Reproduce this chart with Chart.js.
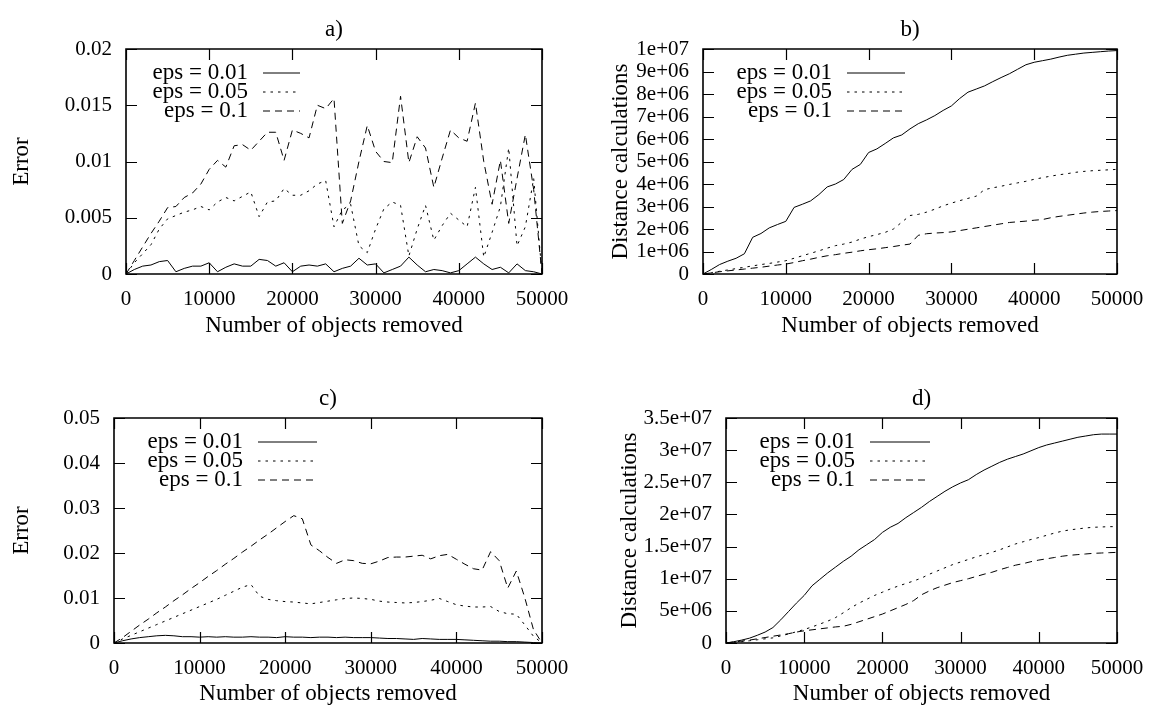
<!DOCTYPE html>
<html>
<head>
<meta charset="utf-8">
<script src="https://cdn.jsdelivr.net/npm/chart.js@4.4.1/dist/chart.umd.min.js"></script>
<style>
  body { margin: 0; background: #fff; width: 1153px; height: 708px; overflow: hidden; position: relative; }
  canvas { position: absolute; }
</style>
</head>
<body>
<canvas id="graphA" width="576" height="354" style="left:0;top:0"></canvas>
<canvas id="graphB" width="577" height="354" style="left:576px;top:0"></canvas>
<canvas id="graphC" width="576" height="354" style="left:0;top:354px"></canvas>
<canvas id="graphD" width="577" height="354" style="left:576px;top:354px"></canvas>
<script>
// x values: number of objects removed
var removed = [0,1000,2000,3000,4000,5000,6000,7000,8000,9000,10000,11000,12000,13000,14000,15000,16000,17000,18000,19000,20000,
  21000,22000,23000,24000,25000,26000,27000,28000,29000,30000,31000,32000,33000,34000,35000,36000,37000,38000,39000,40000,
  41000,42000,43000,44000,45000,46000,47000,48000,49000,50000];

var legendLabels = ['eps = 0.01', 'eps = 0.05', 'eps = 0.1'];
var xTickLabels = ['0', '10000', '20000', '30000', '40000', '50000'];

var yTicksA = ['0', '0.005', '0.01', '0.015', '0.02'];
var yTicksB = ['0', '1e+06', '2e+06', '3e+06', '4e+06', '5e+06', '6e+06', '7e+06', '8e+06', '9e+06', '1e+07'];
var yTicksC = ['0', '0.01', '0.02', '0.03', '0.04', '0.05'];
var yTicksD = ['0', '5e+06', '1e+07', '1.5e+07', '2e+07', '2.5e+07', '3e+07', '3.5e+07'];

// a) error
var errA01 = [0,0.0004,0.0007,0.0008,0.0011,0.0012,0.0002,0.0005,0.0007,0.0007,0.0010,0.0002,0.0006,0.0009,0.0007,0.0007,0.0013,0.0012,0.0007,0.0010,0.0002,
  0.0007,0.0008,0.0007,0.0009,0.0002,0.0005,0.0007,0.0014,0.0008,0.0009,0.0001,0.0004,0.0007,0.0015,0.0008,0.0002,0.0004,0.0003,0.0001,0.0003,
  0.0009,0.0015,0.0009,0.0004,0.0006,0.0001,0.0009,0.0003,0.0002,0];
var errA05 = [0,0.0010,0.0018,0.0026,0.0040,0.0049,0.0052,0.0055,0.0057,0.0060,0.0057,0.0064,0.0068,0.0065,0.0069,0.0073,0.0051,0.0064,0.0065,0.0076,0.0070,
  0.0070,0.0074,0.0080,0.0083,0.0042,0.0057,0.0062,0.0025,0.0019,0.0040,0.0058,0.0064,0.0061,0.0016,0.0040,0.0061,0.0030,0.0043,0.0054,0.0048,
  0.0042,0.0077,0.0015,0.0037,0.0060,0.0112,0.0025,0.0042,0.0085,0];
var errA1 = [0,0.0012,0.0024,0.0036,0.0047,0.0059,0.0060,0.0068,0.0072,0.0080,0.0093,0.0101,0.0095,0.0114,0.0115,0.0110,0.0118,0.0126,0.0126,0.0101,0.0128,
  0.0125,0.0121,0.0150,0.0147,0.0156,0.0045,0.0065,0.0100,0.0132,0.0109,0.0100,0.0099,0.0158,0.0099,0.0122,0.0112,0.0077,0.0103,0.0128,0.0121,
  0.0118,0.0152,0.0100,0.0062,0.0101,0.0045,0.0085,0.0124,0.0075,0];

// b) distance calculations
var distB01 = [0,0.2e6,0.42e6,0.57e6,0.7e6,0.9e6,1.63e6,1.8e6,2.05e6,2.2e6,2.34e6,2.96e6,3.1e6,3.25e6,3.53e6,3.87e6,4.0e6,4.2e6,4.65e6,4.87e6,5.4e6,
  5.56e6,5.8e6,6.05e6,6.18e6,6.45e6,6.68e6,6.85e6,7.04e6,7.27e6,7.47e6,7.8e6,8.08e6,8.22e6,8.36e6,8.55e6,8.73e6,8.9e6,9.1e6,9.3e6,9.41e6,
  9.48e6,9.55e6,9.64e6,9.72e6,9.77e6,9.82e6,9.85e6,9.88e6,9.91e6,9.93e6];
var distB05 = [0,0.06e6,0.12e6,0.18e6,0.24e6,0.3e6,0.36e6,0.42e6,0.47e6,0.53e6,0.59e6,0.7e6,0.81e6,0.92e6,1.03e6,1.15e6,1.26e6,1.33e6,1.42e6,1.55e6,1.66e6,
  1.75e6,1.85e6,2.0e6,2.3e6,2.6e6,2.65e6,2.75e6,2.88e6,3.03e6,3.15e6,3.26e6,3.36e6,3.46e6,3.75e6,3.83e6,3.9e6,3.98e6,4.05e6,4.12e6,4.21e6,
  4.28e6,4.35e6,4.41e6,4.46e6,4.52e6,4.56e6,4.59e6,4.61e6,4.63e6,4.65e6];
var distB1 = [0,0.05e6,0.1e6,0.14e6,0.18e6,0.22e6,0.26e6,0.3e6,0.35e6,0.4e6,0.44e6,0.51e6,0.59e6,0.66e6,0.74e6,0.81e6,0.86e6,0.92e6,0.97e6,1.03e6,1.08e6,
  1.12e6,1.17e6,1.22e6,1.28e6,1.33e6,1.72e6,1.79e6,1.82e6,1.84e6,1.87e6,1.93e6,1.99e6,2.05e6,2.11e6,2.17e6,2.23e6,2.29e6,2.32e6,2.35e6,2.39e6,
  2.42e6,2.5e6,2.56e6,2.61e6,2.66e6,2.71e6,2.75e6,2.78e6,2.8e6,2.82e6];

// c) error
var errC01 = [0,0.0005,0.0009,0.0012,0.0014,0.0016,0.0017,0.0016,0.0014,0.0014,0.0013,0.0014,0.0013,0.0014,0.0013,0.0013,0.0014,0.0013,0.0013,0.0012,0.0014,
  0.0013,0.0013,0.0012,0.0013,0.0013,0.0012,0.0013,0.0012,0.0012,0.0012,0.0011,0.0010,0.0010,0.0009,0.0008,0.0010,0.0009,0.0008,0.0008,0.0008,
  0.0007,0.0006,0.0005,0.0004,0.0004,0.0003,0.0003,0.0002,0.0001,0];
var errC05 = [0,0.0009,0.0017,0.0025,0.0033,0.0041,0.0049,0.0057,0.0065,0.0073,0.0081,0.0089,0.0097,0.0106,0.0115,0.0124,0.0130,0.0104,0.0097,0.0094,0.0092,
  0.0091,0.0089,0.0087,0.0090,0.0093,0.0096,0.0099,0.0100,0.0099,0.0097,0.0093,0.0091,0.0090,0.0089,0.0090,0.0092,0.0095,0.0099,0.0092,0.0085,
  0.0082,0.0080,0.0080,0.0081,0.0070,0.0065,0.0064,0.0040,0.0015,0];
var errC1 = [0,0.0012,0.0026,0.0040,0.0053,0.0067,0.0080,0.0094,0.0107,0.0121,0.0134,0.0148,0.0161,0.0175,0.0188,0.0202,0.0215,0.0229,0.0242,0.0256,0.0270,
  0.0283,0.0276,0.0218,0.0205,0.0190,0.0177,0.0185,0.0183,0.0177,0.0176,0.0182,0.0190,0.0191,0.0191,0.0193,0.0195,0.0187,0.0194,0.0197,0.0186,
  0.0175,0.0165,0.0162,0.0203,0.0183,0.0122,0.0160,0.0100,0.0030,0];

// d) distance calculations
var distD01 = [0,0.2e6,0.45e6,0.75e6,1.2e6,1.7e6,2.4e6,3.6e6,4.9e6,6.2e6,7.4e6,8.9e6,9.9e6,10.9e6,11.8e6,12.7e6,13.5e6,14.5e6,15.3e6,16.1e6,17.2e6,
  18.0e6,18.6e6,19.5e6,20.3e6,21.1e6,22.0e6,22.8e6,23.6e6,24.3e6,24.9e6,25.4e6,26.2e6,26.9e6,27.5e6,28.1e6,28.6e6,29.0e6,29.4e6,29.9e6,30.4e6,
  30.8e6,31.1e6,31.4e6,31.7e6,32.0e6,32.2e6,32.4e6,32.5e6,32.5e6,32.5e6];
var distD05 = [0,0.1e6,0.2e6,0.35e6,0.5e6,0.65e6,0.8e6,1.1e6,1.4e6,1.75e6,2.1e6,2.5e6,2.95e6,3.4e6,3.95e6,4.7e6,5.5e6,6.2e6,6.8e6,7.4e6,7.9e6,
  8.4e6,8.85e6,9.25e6,9.65e6,10.1e6,10.7e6,11.2e6,11.7e6,12.2e6,12.6e6,13.0e6,13.4e6,13.75e6,14.1e6,14.5e6,14.95e6,15.4e6,15.75e6,16.1e6,16.4e6,
  16.75e6,17.1e6,17.4e6,17.6e6,17.75e6,17.9e6,18.0e6,18.05e6,18.1e6,18.1e6];
var distD1 = [0,0.15e6,0.3e6,0.45e6,0.65e6,0.85e6,1.05e6,1.25e6,1.45e6,1.7e6,1.9e6,2.05e6,2.2e6,2.35e6,2.5e6,2.6e6,2.9e6,3.3e6,3.7e6,4.1e6,4.5e6,
  5.0e6,5.5e6,6.0e6,6.6e6,7.5e6,8.1e6,8.6e6,9.0e6,9.4e6,9.7e6,10.0e6,10.35e6,10.7e6,11.0e6,11.4e6,11.75e6,12.1e6,12.35e6,12.65e6,12.9e6,
  13.1e6,13.3e6,13.5e6,13.65e6,13.75e6,13.85e6,13.95e6,14.0e6,14.05e6,14.1e6];

var dashes = [[], [2.5, 5], [7, 5]];
var FONT = "'Liberation Serif', 'Times New Roman', serif";

Chart.defaults.font.family = FONT;
Chart.defaults.font.size = 21;
Chart.defaults.color = '#000';

// gnuplot look: box, inward mirrored ticks, title, key inside the plot
var gnuPlot = {
  id: 'gnuPlot',
  afterDraw: function(chart, args, opts) {
    var ctx = chart.ctx, a = chart.chartArea;
    var L = a.left, R = a.right, T = a.top, B = a.bottom;
    var xs = chart.scales.x, ys = chart.scales.y;
    var tl = 11;
    ctx.save();
    ctx.strokeStyle = '#000000';
    ctx.setLineDash([]);
    ctx.lineWidth = 1.2;
    ctx.beginPath();
    xs.ticks.forEach(function(t) {
      var px = Math.round(xs.getPixelForValue(t.value)) + 0.5;
      ctx.moveTo(px, B); ctx.lineTo(px, B - tl);
      ctx.moveTo(px, T); ctx.lineTo(px, T + tl);
    });
    ys.ticks.forEach(function(t) {
      var py = Math.round(ys.getPixelForValue(t.value)) + 0.5;
      ctx.moveTo(L, py); ctx.lineTo(L + tl, py);
      ctx.moveTo(R, py); ctx.lineTo(R - tl, py);
    });
    ctx.stroke();

    ctx.lineWidth = 1.6;
    ctx.beginPath();
    ctx.moveTo(L, T); ctx.lineTo(R, T); ctx.lineTo(R, B); ctx.lineTo(L, B); ctx.closePath();
    ctx.stroke();

    ctx.fillStyle = '#000';
    ctx.font = '23px ' + FONT;
    ctx.textAlign = 'center';
    ctx.textBaseline = 'middle';
    ctx.fillText(opts.title, (L + R) / 2, T - 19);

    ctx.textAlign = 'right';
    chart.data.datasets.forEach(function(ds, i) {
      var y = T + opts.rows[i];
      ctx.fillText(ds.label, L + opts.textRight, y);
      ctx.beginPath();
      ctx.lineWidth = 1;
      ctx.setLineDash(ds.borderDash);
      ctx.moveTo(L + opts.lineFrom, y);
      ctx.lineTo(L + opts.lineTo, y);
      ctx.stroke();
    });
    ctx.restore();
  }
};

function series(ys) {
  return removed.map(function(x, i) { return {x: x, y: ys[i]}; });
}

function creategraph(canvasId, lists, yMax, yStep, yLabels, yTitle, p) {
  var sets = lists.map(function(ys, i) {
    return {
      label: legendLabels[i],
      data: series(ys),
      borderColor: '#000',
      borderWidth: 1,
      borderDash: dashes[i],
      pointRadius: 0,
      tension: 0,
      fill: false
    };
  });
  new Chart(document.getElementById(canvasId), {
    type: 'line',
    data: { datasets: sets },
    plugins: [gnuPlot],
    options: {
      responsive: false,
      animation: false,
      events: [],
      layout: { padding: { left: 0, right: p.padRight, top: p.padTop, bottom: 0 } },
      plugins: {
        legend: { display: false },
        tooltip: { enabled: false },
        gnuPlot: { title: p.title, textRight: p.textRight, lineFrom: p.lineFrom, lineTo: p.lineTo, rows: [24, 43, 62] }
      },
      scales: {
        x: {
          type: 'linear', min: 0, max: 50000,
          grid: { display: false, drawTicks: false },
          border: { display: false },
          ticks: { stepSize: 10000, padding: 13, maxRotation: 0, autoSkip: false,
            callback: function(v, i) { return xTickLabels[i]; } },
          title: { display: true, text: 'Number of objects removed', font: { size: 23 },
            padding: { top: 0, bottom: p.xTitlePad } },
          afterFit: function(s) { s.height = p.xHeight; s.paddingLeft = 0; s.paddingRight = 0; }
        },
        y: {
          min: 0, max: yMax,
          grid: { display: false, drawTicks: false },
          border: { display: false },
          ticks: { stepSize: yStep, padding: 14, autoSkip: false,
            callback: function(v, i) { return yLabels[i]; } },
          title: { display: true, text: yTitle, font: { size: 23 },
            padding: { top: p.yTitlePad, bottom: 0 } },
          afterFit: function(s) { s.width = p.yWidth; s.paddingTop = 0; s.paddingBottom = 0; }
        }
      }
    }
  });
}

creategraph('graphA', [errA01, errA05, errA1], 0.02, 0.005, yTicksA, 'Error',
  { title: 'a)', padTop: 49, padRight: 34, yWidth: 126, xHeight: 80, xTitlePad: 14, yTitlePad: 8,
    textRight: 122, lineFrom: 137, lineTo: 174 });
creategraph('graphB', [distB01, distB05, distB1], 1e7, 1e6, yTicksB, 'Distance calculations',
  { title: 'b)', padTop: 49, padRight: 36, yWidth: 127, xHeight: 80, xTitlePad: 14, yTitlePad: 31,
    textRight: 129, lineFrom: 144, lineTo: 202 });
creategraph('graphC', [errC01, errC05, errC1], 0.05, 0.01, yTicksC, 'Error',
  { title: 'c)', padTop: 64, padRight: 34, yWidth: 114, xHeight: 65, xTitlePad: 0, yTitlePad: 8,
    textRight: 129, lineFrom: 144, lineTo: 203 });
creategraph('graphD', [distD01, distD05, distD1], 3.5e7, 5e6, yTicksD, 'Distance calculations',
  { title: 'd)', padTop: 64, padRight: 36, yWidth: 150, xHeight: 65, xTitlePad: 0, yTitlePad: 40,
    textRight: 129, lineFrom: 144, lineTo: 204 });
</script>
</body>
</html>
